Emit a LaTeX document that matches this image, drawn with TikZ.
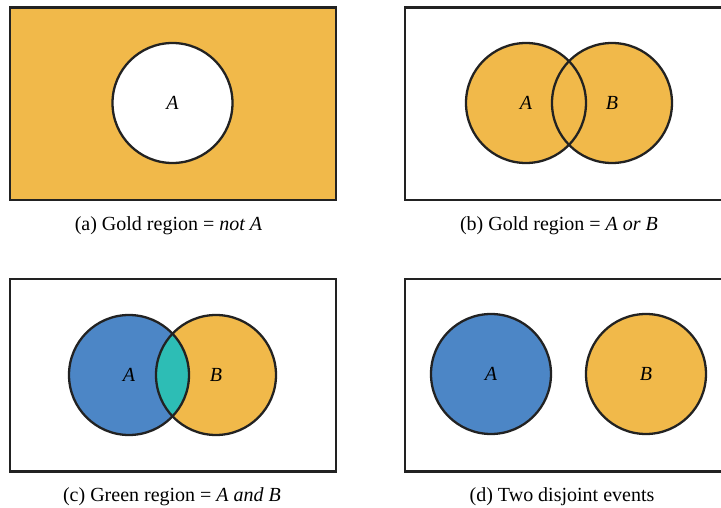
\documentclass[tikz,border=0pt]{standalone}
\usepackage{fontspec}
\setmainfont{Liberation Serif}
\definecolor{gold}{HTML}{F1B94A}
\definecolor{blueA}{HTML}{4C86C6}
\definecolor{tealAB}{HTML}{2DBDB5}
\definecolor{edge}{HTML}{222222}
\begin{document}
\begin{tikzpicture}[x=1pt,y=-1pt,
  frame/.style={draw=edge,line width=2.6pt},
  ring/.style={circle,draw=edge,line width=2.3pt,minimum size=120pt,inner sep=0pt,font=\fontsize{20}{24}\selectfont\itshape},
  captext/.style={font=\fontsize{20}{24}\selectfont,inner sep=0pt,anchor=base}]
\useasboundingbox (0,0) rectangle (721,508);
\clip (0,0) rectangle (721,508);
% (a)
\path[fill=gold,frame] (10,7.5) rectangle (336,200);
\node[ring,fill=white] (a1) at (172.5,103) {A};
\node[captext] (capa) at (168.5,230) {(a) Gold region = \textit{not A}};
% (b)
\path[frame] (405,7.5) rectangle (735,200);
\fill[gold] (526,103) circle (60pt);
\fill[gold] (612,103) circle (60pt);
\node[ring] (b1) at (526,103) {A};
\node[ring] (b2) at (612,103) {B};
\node[captext] (capb) at (559,230) {(b) Gold region = \textit{A or B}};
% (c)
\path[frame] (10,279) rectangle (336,471.5);
\fill[blueA] (129,375) circle (60pt);
\fill[gold] (216,375) circle (60pt);
\begin{scope}
\clip (129,375) circle (60pt);
\fill[tealAB] (216,375) circle (60pt);
\end{scope}
\node[ring] (c1) at (129,375) {A};
\node[ring] (c2) at (216,375) {B};
\node[captext] (capc) at (172,501.5) {(c) Green region = \textit{A and B}};
% (d)
\path[frame] (405,279) rectangle (735,471.5);
\node[ring,fill=blueA] (d1) at (491,374) {A};
\node[ring,fill=gold] (d2) at (646,374) {B};
\node[captext] (capd) at (562,501.5) {(d) Two disjoint events};
\end{tikzpicture}
\end{document}
